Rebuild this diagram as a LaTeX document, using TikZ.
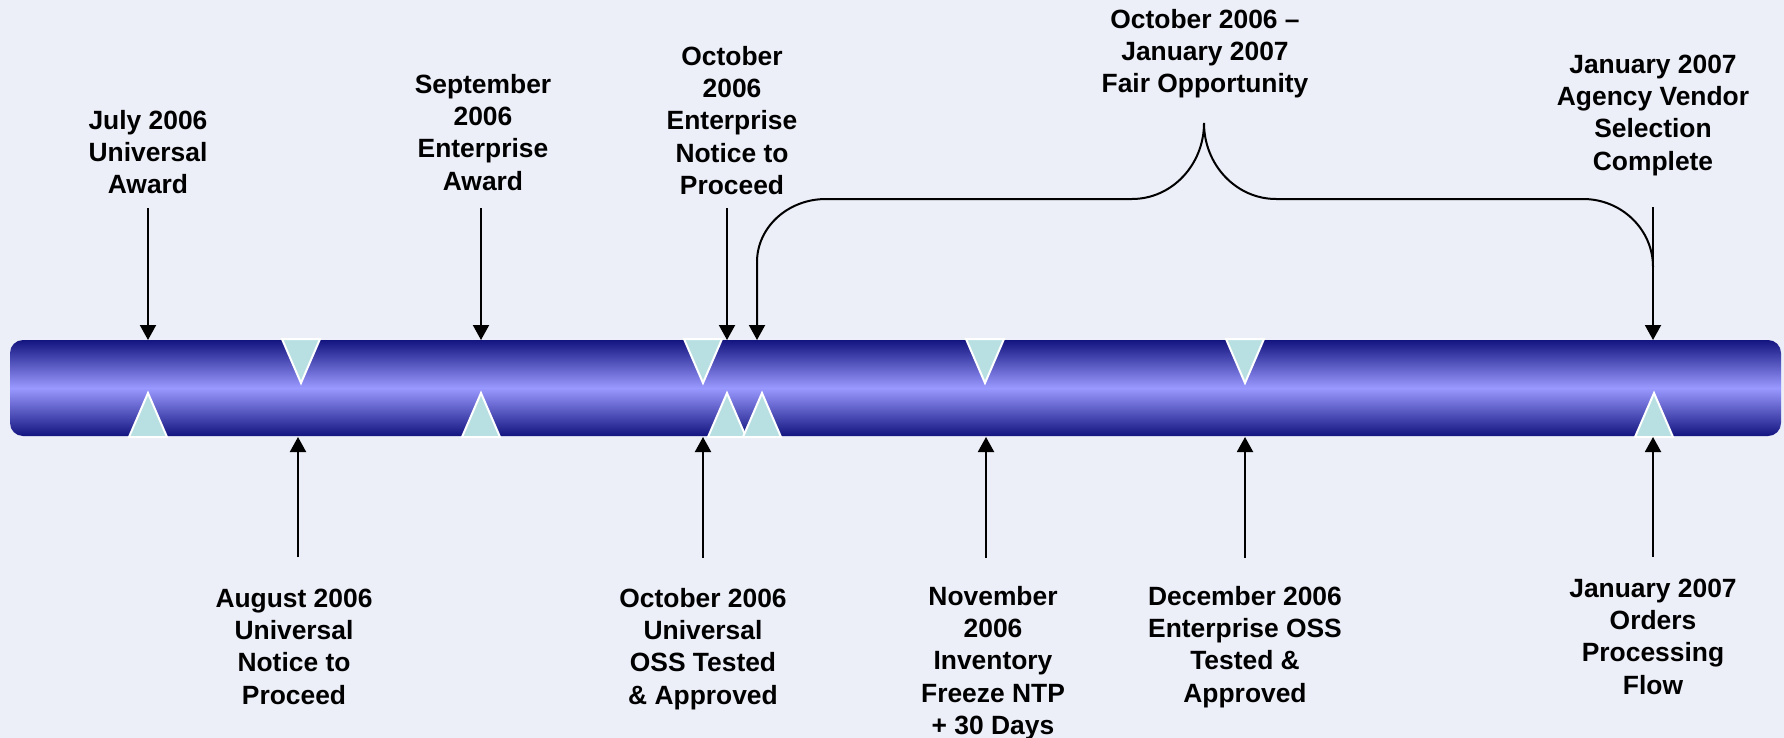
\documentclass[tikz,border=0pt]{standalone}
\usepackage{fontspec}
\setmainfont{Liberation Sans}
\usetikzlibrary{arrows.meta}
\definecolor{bg}{RGB}{236,238,248}
\definecolor{bardark}{RGB}{20,20,128}
\definecolor{barlight}{RGB}{153,153,255}
\definecolor{tricol}{RGB}{184,224,226}
\begin{document}
\begin{tikzpicture}[x=1pt,y=-1pt,
  lbl/.style={font=\fontsize{26.4}{32.3}\selectfont\bfseries, align=center, anchor=north, inner sep=0pt, text=black},
  arr/.style={line width=2pt, -{Triangle[width=16pt,length=15pt]}},
  brace/.style={line width=2pt, {Triangle[width=16pt,length=15pt]}-},
  tri/.style={fill=tricol, draw=white, line width=2pt, line join=miter}
]
\useasboundingbox (0,0) rectangle (1784,738);
\fill[bg] (0,0) rectangle (1784,738);

% timeline bar
\shade[rounded corners=13pt, top color=bardark, bottom color=bardark, middle color=barlight]
  (10,340) rectangle (1781,436);

% down triangles (top edge)
\foreach \x in {301,703,985,1245}
  \draw[tri] (\x-19,339) -- (\x+19,339) -- (\x,383) -- cycle;
% up triangles (bottom edge)
\foreach \x in {148,481,727,762,1654}
  \draw[tri] (\x-19,437) -- (\x+19,437) -- (\x,393) -- cycle;

% labels above
\node[lbl] (july) at (148,106.4) {\strut July 2006\\Universal\\Award};
\node[lbl] (sept) at (483,70.4) {\strut September\\2006\\Enterprise\\Award};
\node[lbl] (octent) at (732,42.4) {\strut October\\2006\\Enterprise\\Notice to\\Proceed};
\node[lbl] (fair) at (1205,5.4) {\strut October 2006 --\\January 2007\\Fair Opportunity};
\node[lbl] (janvend) at (1653,50.4) {\strut January 2007\\Agency Vendor\\Selection\\Complete};

% labels below
\node[lbl] (aug) at (294,584.4) {\strut August 2006\\Universal\\Notice to\\Proceed};
\node[lbl] (octuni) at (703,584.4) {\strut October 2006\\Universal\\OSS Tested\\\& Approved};
\node[lbl] (nov) at (993,582.4) {\strut November\\2006\\Inventory\\Freeze NTP\\+ 30 Days};
\node[lbl] (dec) at (1245,582.4) {\strut December 2006\\Enterprise OSS\\Tested \&\\Approved};
\node[lbl] (janord) at (1653,574.4) {\strut January 2007\\Orders\\Processing\\Flow};

% arrow end points
\coordinate (julyS) at (148,208);   \coordinate (julyE) at (148,340);
\coordinate (septS) at (481,208);   \coordinate (septE) at (481,340);
\coordinate (octentS) at (727,208); \coordinate (octentE) at (727,340);
\coordinate (janvendS) at (1653,207); \coordinate (janvendE) at (1653,340);

\coordinate (augS) at (298,557);    \coordinate (augE) at (298,437);
\coordinate (octuniS) at (703,558); \coordinate (octuniE) at (703,437);
\coordinate (novS) at (986,558);    \coordinate (novE) at (986,437);
\coordinate (decS) at (1245,558);   \coordinate (decE) at (1245,437);
\coordinate (janordS) at (1653,557); \coordinate (janordE) at (1653,437);

\draw[arr] (julyS) -- (julyE);
\draw[arr] (septS) -- (septE);
\draw[arr] (octentS) -- (octentE);
\draw[arr] (janvendS) -- (janvendE);
\draw[arr] (augS) -- (augE);
\draw[arr] (octuniS) -- (octuniE);
\draw[arr] (novS) -- (novE);
\draw[arr] (decS) -- (decE);
\draw[arr] (janordS) -- (janordE);

% brace for fair opportunity period
\coordinate (braceA) at (757,340);
\coordinate (braceP) at (1204,123);
\coordinate (braceB) at (1653,267);
\draw[brace] (braceA) -- (757,262)
  .. controls (757,227.2) and (787.9,199) .. (826,199)
  -- (1132,199)
  .. controls (1171.7,199) and (1204,165) .. (braceP)
  .. controls (1204,165) and (1236.3,199) .. (1276,199)
  -- (1583,199)
  .. controls (1621.6,199) and (1653,229.5) .. (braceB);
\end{tikzpicture}
\end{document}
